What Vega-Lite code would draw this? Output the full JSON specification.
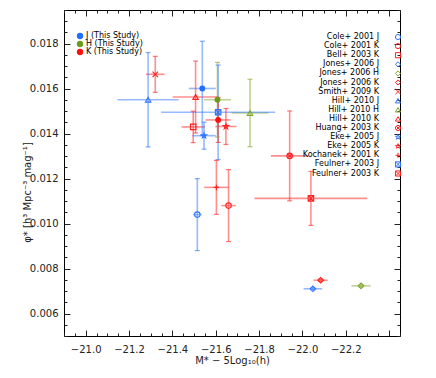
{
  "$schema": "https://vega.github.io/schema/vega-lite/v6.json",
  "width": 336,
  "height": 326,
  "autosize": {"type": "none"},
  "padding": {"left": 64, "top": 10, "right": 36, "bottom": 42},
  "background": "white",
  "config": {
    "font": "DejaVu Sans",
    "view": {"stroke": "black", "strokeWidth": 1},
    "axis": {"domain": false, "grid": false, "labelFont": "DejaVu Sans", "titleFont": "DejaVu Sans", "labelFontSize": 10, "titleFontSize": 10, "titleFontWeight": "normal", "labelColor": "#222", "titleColor": "#222", "tickColor": "#222"},
    "legend": {"labelFont": "DejaVu Sans"}
  },
  "datasets": {
    "pts": [
      {"label": "Cole+ 2001 J", "band": "J", "src": "lit", "M": -21.515, "phi": 0.0104, "Mlo": -21.495, "Mhi": -21.535, "plo": 0.0088, "phiHi": 0.012},
      {"label": "Cole+ 2001 K", "band": "K", "src": "lit", "M": -21.659, "phi": 0.0108, "Mlo": -21.626, "Mhi": -21.692, "plo": 0.0092, "phiHi": 0.0124},
      {"label": "Bell+ 2003 K", "band": "K", "src": "lit", "M": -21.496, "phi": 0.0143, "Mlo": -21.442, "Mhi": -21.55, "plo": 0.0136, "phiHi": 0.015},
      {"label": "Jones+ 2006 J", "band": "J", "src": "lit", "M": -22.048, "phi": 0.0071, "Mlo": -22.005, "Mhi": -22.091, "plo": 0.00705, "phiHi": 0.00715},
      {"label": "Jones+ 2006 H", "band": "H", "src": "lit", "M": -22.27, "phi": 0.00723, "Mlo": -22.226, "Mhi": -22.314, "plo": 0.00718, "phiHi": 0.00728},
      {"label": "Jones+ 2006 K", "band": "K", "src": "lit", "M": -22.084, "phi": 0.00748, "Mlo": -22.051, "Mhi": -22.117, "plo": 0.00743, "phiHi": 0.00753},
      {"label": "Smith+ 2009 K", "band": "K", "src": "lit", "M": -21.321, "phi": 0.01664, "Mlo": -21.278, "Mhi": -21.364, "plo": 0.01584, "phiHi": 0.01744},
      {"label": "Hill+ 2010 J", "band": "J", "src": "lit", "M": -21.288, "phi": 0.01551, "Mlo": -21.147, "Mhi": -21.429, "plo": 0.01341, "phiHi": 0.01761},
      {"label": "Hill+ 2010 H", "band": "H", "src": "lit", "M": -21.758, "phi": 0.01492, "Mlo": -21.673, "Mhi": -21.843, "plo": 0.01342, "phiHi": 0.01642},
      {"label": "Hill+ 2010 K", "band": "K", "src": "lit", "M": -21.507, "phi": 0.01563, "Mlo": -21.401, "Mhi": -21.613, "plo": 0.01403, "phiHi": 0.01723},
      {"label": "Huang+ 2003 K", "band": "K", "src": "lit", "M": -21.941, "phi": 0.01301, "Mlo": -21.854, "Mhi": -22.028, "plo": 0.01101, "phiHi": 0.01501},
      {"label": "Eke+ 2005 J", "band": "J", "src": "lit", "M": -21.546, "phi": 0.01391, "Mlo": -21.492, "Mhi": -21.6, "plo": 0.01331, "phiHi": 0.01451},
      {"label": "Eke+ 2005 K", "band": "K", "src": "lit", "M": -21.647, "phi": 0.01432, "Mlo": -21.598, "Mhi": -21.696, "plo": 0.01352, "phiHi": 0.01512},
      {"label": "Kochanek+ 2001 K", "band": "K", "src": "lit", "M": -21.603, "phi": 0.01161, "Mlo": -21.547, "Mhi": -21.659, "plo": 0.01041, "phiHi": 0.01281},
      {"label": "Feulner+ 2003 J", "band": "J", "src": "lit", "M": -21.611, "phi": 0.01495, "Mlo": -21.348, "Mhi": -21.874, "plo": 0.01285, "phiHi": 0.01705},
      {"label": "Feulner+ 2003 K", "band": "K", "src": "lit", "M": -22.039, "phi": 0.01112, "Mlo": -21.779, "Mhi": -22.299, "plo": 0.00992, "phiHi": 0.01232},
      {"label": "J (This Study)", "band": "J", "src": "ours", "M": -21.538, "phi": 0.01601, "Mlo": -21.476, "Mhi": -21.6, "plo": 0.01391, "phiHi": 0.01811},
      {"label": "H (This Study)", "band": "H", "src": "ours", "M": -21.608, "phi": 0.01551, "Mlo": -21.546, "Mhi": -21.67, "plo": 0.01385, "phiHi": 0.01717},
      {"label": "K (This Study)", "band": "K", "src": "ours", "M": -21.611, "phi": 0.01461, "Mlo": -21.553, "Mhi": -21.669, "plo": 0.01361, "phiHi": 0.01561}
    ]
  },
  "data": {"name": "pts"},
  "resolve": {"scale": {"color": "independent", "shape": "independent"}, "axis": {"x": "independent", "y": "independent"}},
  "layer": [
    {
      "mark": {"type": "rule", "strokeWidth": 1.6, "opacity": 0.5},
      "encoding": {
        "x": {"field": "Mlo", "type": "quantitative", "scale": {"domain": [-20.9, -22.45], "nice": false, "zero": false},
          "axis": {"orient": "bottom", "title": "M* − 5Log₁₀(h)", "titlePadding": -2,
            "values": [-20.9,-20.95,-21.0,-21.05,-21.1,-21.15,-21.2,-21.25,-21.3,-21.35,-21.4,-21.45,-21.5,-21.55,-21.6,-21.65,-21.7,-21.75,-21.8,-21.85,-21.9,-21.95,-22.0,-22.05,-22.1,-22.15,-22.2,-22.25,-22.3,-22.35,-22.4,-22.45],
            "labelExpr": "abs(datum.value*5 - round(datum.value*5)) < 0.000001 && datum.value > -22.3 ? format(datum.value, '.1f') : ''",
            "tickSize": {"condition": {"test": "abs(datum.value*5 - round(datum.value*5)) < 0.000001", "value": -6}, "value": -3},
            "labelPadding": 14, "labelFlush": false, "labelOverlap": false}},
        "x2": {"field": "Mhi"},
        "y": {"field": "phi", "type": "quantitative", "scale": {"domain": [0.005, 0.0195], "nice": false, "zero": false},
          "axis": {"orient": "left", "title": "φ* [h³ Mpc⁻³ mag⁻¹]", "titleX": -37, "titleY": 182, "titleAngle": 270, "titleAlign": "center", "titleBaseline": "middle",
            "values": [0.005,0.0055,0.006,0.0065,0.007,0.0075,0.008,0.0085,0.009,0.0095,0.01,0.0105,0.011,0.0115,0.012,0.0125,0.013,0.0135,0.014,0.0145,0.015,0.0155,0.016,0.0165,0.017,0.0175,0.018,0.0185,0.019,0.0195],
            "labelExpr": "abs(datum.value*500 - round(datum.value*500)) < 0.000001 ? format(datum.value, '.3f') : ''",
            "tickSize": {"condition": {"test": "abs(datum.value*500 - round(datum.value*500)) < 0.000001", "value": -6}, "value": -3},
            "labelPadding": 12, "labelOverlap": false}},
        "color": {"field": "band", "type": "nominal", "scale": {"domain": ["J", "H", "K"], "range": ["#2F74FF", "#7FA62A", "#FF2020"]}, "legend": null}
      }
    },
    {
      "mark": {"type": "rule", "strokeWidth": 1.6, "opacity": 0.5},
      "encoding": {
        "x": {"field": "M", "type": "quantitative",
          "axis": {"orient": "top", "title": null, "labels": false,
            "values": [-20.9,-20.95,-21.0,-21.05,-21.1,-21.15,-21.2,-21.25,-21.3,-21.35,-21.4,-21.45,-21.5,-21.55,-21.6,-21.65,-21.7,-21.75,-21.8,-21.85,-21.9,-21.95,-22.0,-22.05,-22.1,-22.15,-22.2,-22.25,-22.3,-22.35,-22.4,-22.45],
            "tickSize": {"condition": {"test": "abs(datum.value*5 - round(datum.value*5)) < 0.000001", "value": -6}, "value": -3}}},
        "y": {"field": "plo", "type": "quantitative",
          "axis": {"orient": "right", "title": null, "labels": false,
            "values": [0.005,0.0055,0.006,0.0065,0.007,0.0075,0.008,0.0085,0.009,0.0095,0.01,0.0105,0.011,0.0115,0.012,0.0125,0.013,0.0135,0.014,0.0145,0.015,0.0155,0.016,0.0165,0.017,0.0175,0.018,0.0185,0.019,0.0195],
            "tickSize": {"condition": {"test": "abs(datum.value*500 - round(datum.value*500)) < 0.000001", "value": -6}, "value": -3}}},
        "y2": {"field": "phiHi"},
        "color": {"field": "band", "type": "nominal", "scale": {"domain": ["J", "H", "K"], "range": ["#2F74FF", "#7FA62A", "#FF2020"]}, "legend": null}
      }
    },
    {
      "mark": {"type": "tick", "orient": "horizontal", "size": 5, "thickness": 1.2, "opacity": 0.6},
      "encoding": {
        "x": {"field": "M", "type": "quantitative", "axis": null},
        "y": {"field": "plo", "type": "quantitative", "axis": null},
        "color": {"field": "band", "type": "nominal", "scale": {"domain": ["J", "H", "K"], "range": ["#2F74FF", "#7FA62A", "#FF2020"]}, "legend": null}
      }
    },
    {
      "mark": {"type": "tick", "orient": "horizontal", "size": 5, "thickness": 1.2, "opacity": 0.6},
      "encoding": {
        "x": {"field": "M", "type": "quantitative", "axis": null},
        "y": {"field": "phiHi", "type": "quantitative", "axis": null},
        "color": {"field": "band", "type": "nominal", "scale": {"domain": ["J", "H", "K"], "range": ["#2F74FF", "#7FA62A", "#FF2020"]}, "legend": null}
      }
    },
    {
      "transform": [{"filter": "datum.src == 'lit'"}],
      "mark": {"type": "point", "filled": false, "size": 30, "strokeWidth": 1.1, "opacity": 1},
      "encoding": {
        "x": {"field": "M", "type": "quantitative", "axis": null},
        "y": {"field": "phi", "type": "quantitative", "axis": null},
        "color": {"field": "label", "type": "nominal",
          "scale": {"domain": ["Cole+ 2001 J","Cole+ 2001 K","Bell+ 2003 K","Jones+ 2006 J","Jones+ 2006 H","Jones+ 2006 K","Smith+ 2009 K","Hill+ 2010 J","Hill+ 2010 H","Hill+ 2010 K","Huang+ 2003 K","Eke+ 2005 J","Eke+ 2005 K","Kochanek+ 2001 K","Feulner+ 2003 J","Feulner+ 2003 K"],
            "range": ["#2F74FF","#FF2020","#FF2020","#2F74FF","#7FA62A","#FF2020","#FF2020","#2F74FF","#7FA62A","#FF2020","#FF2020","#2F74FF","#FF2020","#FF2020","#2F74FF","#FF2020"]},
          "legend": {"orient": "none", "legendX": 330, "legendY": 23, "title": null, "labelAlign": "right", "labelOffset": -23, "labelFontSize": 8, "labelColor": "black", "symbolSize": 26, "symbolStrokeWidth": 1, "rowPadding": -0.9, "padding": 0, "labelLimit": 200}},
        "shape": {"field": "label", "type": "nominal",
          "scale": {"domain": ["Cole+ 2001 J","Cole+ 2001 K","Bell+ 2003 K","Jones+ 2006 J","Jones+ 2006 H","Jones+ 2006 K","Smith+ 2009 K","Hill+ 2010 J","Hill+ 2010 H","Hill+ 2010 K","Huang+ 2003 K","Eke+ 2005 J","Eke+ 2005 K","Kochanek+ 2001 K","Feulner+ 2003 J","Feulner+ 2003 K"],
            "range": ["circle","circle","square","diamond","diamond","diamond","M-1,-1L1,1M-1,1L1,-1","triangle-up","triangle-up","triangle-up","M1,0A1,1,0,1,1,-1,0A1,1,0,1,1,1,0M-0.7,-0.7L0.7,0.7M-0.7,0.7L0.7,-0.7","M0,-1L0.22,-0.31L0.95,-0.31L0.36,0.12L0.59,0.81L0,0.38L-0.59,0.81L-0.36,0.12L-0.95,-0.31L-0.22,-0.31Z","M0,-1L0.22,-0.31L0.95,-0.31L0.36,0.12L0.59,0.81L0,0.38L-0.59,0.81L-0.36,0.12L-0.95,-0.31L-0.22,-0.31Z","M-1,0L1,0M0,-1L0,1","M-1,-1L1,-1L1,1L-1,1ZM-1,-1L1,1M-1,1L1,-1","M-1,-1L1,-1L1,1L-1,1ZM-1,-1L1,1M-1,1L1,-1"]}}
      }
    },
    {
      "transform": [{"filter": "datum.src == 'ours'"}],
      "mark": {"type": "point", "filled": true, "shape": "circle", "size": 34, "opacity": 1},
      "encoding": {
        "x": {"field": "M", "type": "quantitative", "axis": null},
        "y": {"field": "phi", "type": "quantitative", "axis": null},
        "color": {"field": "label", "type": "nominal",
          "scale": {"domain": ["J (This Study)", "H (This Study)", "K (This Study)"], "range": ["#1F6FFF", "#6B9B1A", "#FF1010"]},
          "legend": {"orient": "none", "legendX": 12, "legendY": 22, "title": null, "labelFontSize": 8, "labelColor": "black", "symbolSize": 40, "symbolType": "circle", "rowPadding": -0.4, "padding": 0, "labelOffset": 2}}
      }
    }
  ]
}
